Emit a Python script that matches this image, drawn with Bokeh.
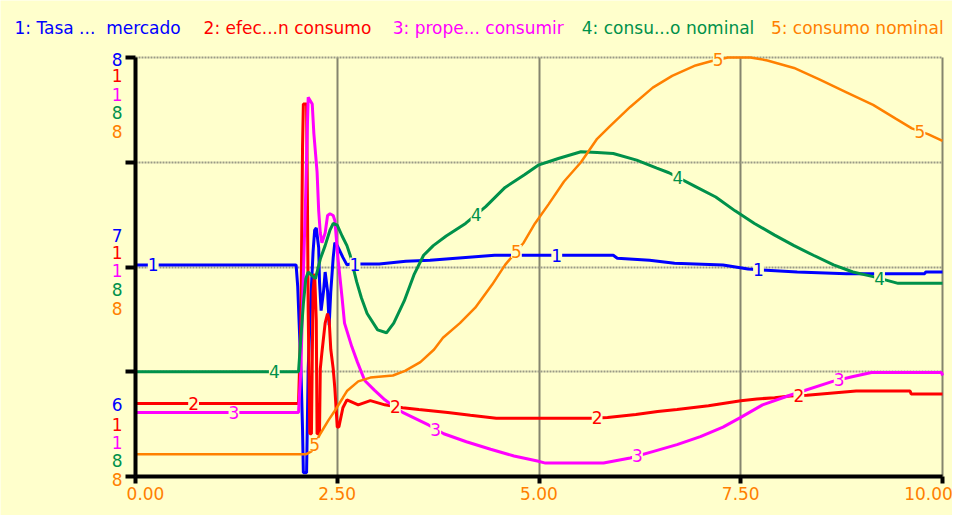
import numpy as np
from bokeh.plotting import figure
from bokeh.models import Range1d, FixedTicker, Label
from bokeh.embed import file_html
from bokeh.resources import INLINE

# ---------------- data (fraction of each series' own scale) ----------------
series_names = ["1: Tasa ...\u00a0 mercado", "2: efec...n consumo", "3: prope... consumir",
                "4: consu...o nominal", "5: consumo nominal"]
series_colors = ["#0000FF", "#FF0000", "#FF00FF", "#00914A", "#FF8000"]

t1 = [0, 1.99, 2.01, 2.05, 2.07, 2.08, 2.12, 2.14, 2.17, 2.20, 2.22, 2.24, 2.27, 2.28, 2.30, 2.33,
      2.35, 2.38, 2.40, 2.42, 2.45, 2.47, 2.50, 2.53, 2.57, 2.62, 2.66, 3.02, 3.35, 3.65, 3.97, 4.45,
      5.92, 5.97, 6.37, 6.68, 7.28, 7.59, 8.20, 8.81, 9.78, 9.79, 10]
v1 = [0.505, 0.505, 0.454, 0.257, 0.111, 0.009, 0.009, 0.257, 0.412, 0.535, 0.588, 0.593, 0.546,
      0.465, 0.396, 0.442, 0.488, 0.442, 0.361, 0.442, 0.523, 0.558, 0.551, 0.539, 0.523, 0.505,
      0.507, 0.507, 0.514, 0.516, 0.521, 0.528, 0.528, 0.521, 0.516, 0.509, 0.505, 0.495, 0.488,
      0.484, 0.484, 0.488, 0.488]

t2 = [0, 2.02, 2.05, 2.07, 2.08, 2.12, 2.13, 2.14, 2.16, 2.18, 2.20, 2.22, 2.24, 2.25, 2.28, 2.29,
      2.31, 2.35, 2.38, 2.40, 2.42, 2.45, 2.47, 2.50, 2.52, 2.57, 2.62, 2.76, 2.91, 3.09, 3.31, 3.51,
      3.87, 4.15, 4.47, 5.65, 5.85, 6.20, 6.47, 6.71, 7.10, 7.50, 7.70, 7.92, 8.11, 8.32, 8.93, 9.60,
      9.61, 10]
v2 = [0.174, 0.174, 0.373, 0.789, 0.889, 0.889, 0.674, 0.396, 0.102, 0.102, 0.442, 0.484, 0.373,
      0.102, 0.102, 0.257, 0.296, 0.366, 0.389, 0.373, 0.303, 0.257, 0.211, 0.118, 0.118, 0.164,
      0.183, 0.171, 0.181, 0.171, 0.164, 0.160, 0.153, 0.146, 0.139, 0.139, 0.141, 0.148, 0.155,
      0.160, 0.169, 0.181, 0.185, 0.188, 0.192, 0.194, 0.204, 0.204, 0.197, 0.197]

t3 = [0, 2.02, 2.05, 2.07, 2.11, 2.13, 2.14, 2.19, 2.21, 2.25, 2.27, 2.29, 2.31, 2.35, 2.38, 2.41,
      2.45, 2.47, 2.51, 2.56, 2.59, 2.68, 2.75, 2.84, 2.96, 3.09, 3.14, 3.31, 3.63, 3.82, 4.10, 4.40,
      4.69, 4.98, 5.08, 5.80, 6.13, 6.42, 6.71, 7.00, 7.28, 7.50, 7.77, 8.11, 8.64, 8.88, 9.12, 9.99,
      10]
v3 = [0.153, 0.153, 0.257, 0.412, 0.681, 0.836, 0.905, 0.889, 0.819, 0.727, 0.634, 0.581, 0.558,
      0.581, 0.623, 0.627, 0.623, 0.611, 0.519, 0.426, 0.366, 0.310, 0.273, 0.229, 0.206, 0.183,
      0.176, 0.153, 0.123, 0.102, 0.083, 0.065, 0.049, 0.037, 0.032, 0.032, 0.044, 0.060, 0.076,
      0.095, 0.118, 0.141, 0.171, 0.194, 0.227, 0.238, 0.248, 0.248, 0.241]

t4 = [0, 2.02, 2.05, 2.08, 2.11, 2.14, 2.23, 2.29, 2.35, 2.41, 2.45, 2.50, 2.56, 2.62, 2.66, 2.74,
      2.80, 2.87, 3.00, 3.11, 3.20, 3.33, 3.45, 3.57, 3.69, 3.85, 4.09, 4.34, 4.58, 4.82, 4.99, 5.24,
      5.52, 5.72, 5.92, 6.21, 6.46, 6.61, 6.94, 7.19, 7.43, 7.67, 7.92, 8.16, 8.40, 8.65, 8.89, 9.14,
      9.45, 10]
v4 = [0.250, 0.250, 0.333, 0.412, 0.472, 0.488, 0.472, 0.519, 0.551, 0.588, 0.604, 0.600, 0.574,
      0.551, 0.528, 0.465, 0.426, 0.389, 0.350, 0.343, 0.366, 0.419, 0.481, 0.528, 0.551, 0.574,
      0.604, 0.644, 0.690, 0.720, 0.743, 0.759, 0.775, 0.773, 0.771, 0.755, 0.736, 0.725, 0.692,
      0.667, 0.634, 0.604, 0.576, 0.551, 0.528, 0.505, 0.488, 0.477, 0.461, 0.461]

t5 = [0, 2.11, 2.18, 2.22, 2.29, 2.39, 2.47, 2.57, 2.62, 2.76, 2.91, 3.19, 3.34, 3.53, 3.70, 3.81,
      4.02, 4.21, 4.42, 4.58, 4.81, 4.95, 5.12, 5.31, 5.52, 5.72, 5.88, 6.13, 6.41, 6.65, 6.94, 7.13,
      7.34, 7.62, 7.83, 8.16, 8.48, 8.81, 9.14, 9.42, 9.62, 9.82, 10]
v5 = [0.053, 0.053, 0.060, 0.076, 0.102, 0.134, 0.157, 0.188, 0.204, 0.227, 0.236, 0.241, 0.252,
      0.273, 0.303, 0.331, 0.366, 0.403, 0.458, 0.505, 0.558, 0.604, 0.650, 0.704, 0.750, 0.806,
      0.836, 0.882, 0.928, 0.956, 0.981, 0.991, 1.000, 1.000, 0.993, 0.975, 0.947, 0.917, 0.887,
      0.854, 0.831, 0.817, 0.801]

series_t = [t1, t2, t3, t4, t5]
series_v = [v1, v2, v3, v4, v5]

x_ticks = [0, 2.5, 5, 7.5, 10]
x_tick_labels = ["0.00", "2.50", "5.00", "7.50", "10.00"]
y_grid = [0, 0.25, 0.5, 0.75, 1.0]
scale_top = ["8", "1", "1", "8", "8"]
scale_mid = ["7", "1", "1", "8", "8"]
scale_bot = ["6", "1", "1", "8", "8"]

# ---------------- layout ----------------
BG = "#FFFFCC"
FONT = "DejaVu Sans"
FS = "17px"
W, H = 952, 515
PL, PR, PT, PB = 135, 942, 57, 476        # plotting area edges inside the figure (px)
xpp = (PR - PL) / 10.0
ypp = (PB - PT) / 1.0
x_rng = Range1d(-PL / xpp, 10 + (W - PR) / xpp)
y_rng = Range1d(-(H - PB) / ypp, 1 + PT / ypp)

p = figure(width=W, height=H, output_backend="svg", toolbar_location=None,
           x_range=x_rng, y_range=y_rng,
           min_border=0, min_border_left=0, min_border_right=0,
           min_border_top=0, min_border_bottom=0,
           background_fill_color=BG, border_fill_color=BG, outline_line_color=None)

p.xaxis.ticker = FixedTicker(ticks=x_ticks)
p.yaxis.ticker = FixedTicker(ticks=y_grid)
p.xaxis.major_label_overrides = {t: "" for t in x_ticks}
p.yaxis.major_label_overrides = {t: "" for t in y_grid}
p.xaxis.fixed_location = 0
p.yaxis.fixed_location = 0
p.xaxis.bounds = (0, 10)
p.yaxis.bounds = (0, 1)
for ax in (p.xaxis[0], p.yaxis[0]):
    ax.axis_line_width = 4
    ax.axis_line_color = "black"
    ax.major_tick_line_width = 4
    ax.major_tick_line_color = "black"
    ax.major_tick_in = 0
    ax.minor_tick_line_color = None
p.xaxis.major_tick_out = 7
p.yaxis.major_tick_out = 10

p.xgrid.bounds = (0, 10)
p.xgrid.cross_bounds = (0, 1)
p.ygrid.bounds = (0, 1)
p.ygrid.cross_bounds = (0, 10)
p.xgrid.grid_line_color = "#85856e"
p.xgrid.grid_line_width = 2
p.ygrid.grid_line_color = "#9a9a86"
p.ygrid.grid_line_width = 2
p.ygrid.grid_line_dash = "2 1"

widths = [3, 3, 3, 3, 2.5]
for t, v, c, w in zip(series_t, series_v, series_colors, widths):
    p.line(t, v, line_color=c, line_width=w)

# numbered labels along the curves
for k in range(4):
    for i in range(5):
        tt = 0.22 + 0.5 * i + 2.5 * k
        yy = float(np.interp(tt, series_t[i], series_v[i]))
        p.add_layout(Label(x=tt, y=yy, text=str(i + 1), text_color=series_colors[i],
                           text_font=FONT, text_font_size=FS, text_align="center",
                           text_baseline="middle", background_fill_color=BG))

# legend header
for i, name in enumerate(series_names):
    p.add_layout(Label(x=14 + i * 189.1, y=H - 27, x_units="screen", y_units="screen",
                       text=name, text_color=series_colors[i], text_font=FONT,
                       text_font_size=FS, text_baseline="middle"))

# x tick labels
offs = [10, 0, 0, 0, -14]
for xt, lab, o in zip(x_ticks, x_tick_labels, offs):
    p.add_layout(Label(x=xt, y=H - 493, x_units="data", y_units="screen", text=lab,
                       text_color="#FF8000", text_font=FONT, text_font_size=FS,
                       text_align="center", text_baseline="middle", x_offset=o))

# per-series scale labels on the left
stacks = [(1.0, scale_top, [-2, -18, -37, -55, -74]),
          (0.5, scale_mid, [32, 15, -3, -22, -41]),
          (0.0, scale_bot, [72, 52, 34, 16, -3])]
for yv, labs, offsets in stacks:
    for i, (lab, o) in enumerate(zip(labs, offsets)):
        p.add_layout(Label(x=122, y=yv, x_units="screen", y_units="data", y_offset=o,
                           text=lab, text_color=series_colors[i], text_font=FONT,
                           text_font_size=FS, text_align="right", text_baseline="middle"))

open("out.html", "w").write(file_html(p, INLINE))
